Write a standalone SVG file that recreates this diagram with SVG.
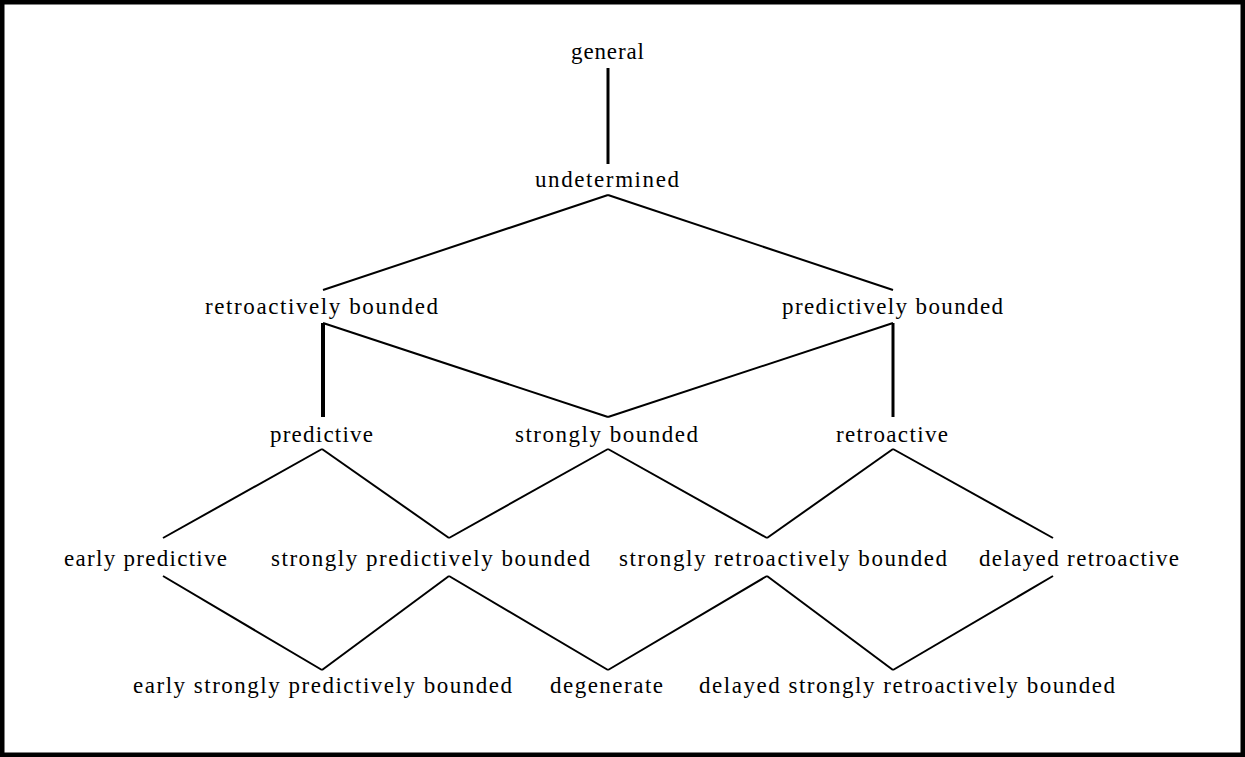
<svg xmlns="http://www.w3.org/2000/svg" width="1245" height="757" viewBox="0 0 1245 757">
<style>
text{font-family:"Liberation Serif","Times New Roman",serif;font-size:23px;fill:#000;text-anchor:middle}
.c line{stroke:#000;stroke-width:2;stroke-linecap:butt}
.c line.v{stroke-width:3}
.c line.vt{stroke-width:4}
</style>
<rect x="2.25" y="2.25" width="1240.5" height="752.5" fill="#fff" stroke="#000" stroke-width="4.5"/>
<g class="c" id="connectors">
<line class="v" x1="608" y1="68" x2="608" y2="164"/>
<line x1="608" y1="195" x2="323" y2="290"/>
<line x1="608" y1="195" x2="893" y2="290"/>
<line class="vt" x1="323" y1="323" x2="323" y2="417"/>
<line x1="323" y1="323" x2="608" y2="417"/>
<line x1="893" y1="323" x2="608" y2="417"/>
<line class="v" x1="893" y1="323" x2="893" y2="417"/>
<line x1="322" y1="449" x2="163" y2="538"/>
<line x1="322" y1="449" x2="449" y2="538"/>
<line x1="608" y1="449" x2="449" y2="538"/>
<line x1="608" y1="449" x2="767" y2="538"/>
<line x1="893" y1="449" x2="767" y2="538"/>
<line x1="893" y1="449" x2="1053" y2="538"/>
<line x1="163" y1="576" x2="322" y2="670"/>
<line x1="449" y1="576" x2="322" y2="670"/>
<line x1="449" y1="576" x2="608" y2="670"/>
<line x1="767" y1="576" x2="608" y2="670"/>
<line x1="767" y1="576" x2="893" y2="670"/>
<line x1="1053" y1="576" x2="893" y2="670"/>
</g>
<g id="n-general"><text x="607.5" y="59" textLength="73" lengthAdjust="spacing">general</text></g>
<g id="n-undetermined"><text x="607" y="187" textLength="144" lengthAdjust="spacing">undetermined</text></g>
<g id="n-retroactively-bounded"><text x="321.5" y="314" textLength="233" lengthAdjust="spacing">retroactively bounded</text></g>
<g id="n-predictively-bounded"><text x="892.5" y="314" textLength="221" lengthAdjust="spacing">predictively bounded</text></g>
<g id="n-predictive"><text x="321.5" y="442" textLength="103" lengthAdjust="spacing">predictive</text></g>
<g id="n-strongly-bounded"><text x="606.5" y="442" textLength="183" lengthAdjust="spacing">strongly bounded</text></g>
<g id="n-retroactive"><text x="892" y="442" textLength="112" lengthAdjust="spacing">retroactive</text></g>
<g id="n-early-predictive"><text x="145.5" y="566" textLength="163" lengthAdjust="spacing">early predictive</text></g>
<g id="n-strongly-predictively-bounded"><text x="430.5" y="566" textLength="319" lengthAdjust="spacing">strongly predictively bounded</text></g>
<g id="n-strongly-retroactively-bounded"><text x="783" y="566" textLength="328" lengthAdjust="spacing">strongly retroactively bounded</text></g>
<g id="n-delayed-retroactive"><text x="1079" y="566" textLength="200" lengthAdjust="spacing">delayed retroactive</text></g>
<g id="n-early-strongly-predictively-bounded"><text x="322.5" y="693" textLength="379" lengthAdjust="spacing">early strongly predictively bounded</text></g>
<g id="n-degenerate"><text x="606.5" y="693" textLength="113" lengthAdjust="spacing">degenerate</text></g>
<g id="n-delayed-strongly-retroactively-bounded"><text x="907" y="693" textLength="416" lengthAdjust="spacing">delayed strongly retroactively bounded</text></g>
</svg>
